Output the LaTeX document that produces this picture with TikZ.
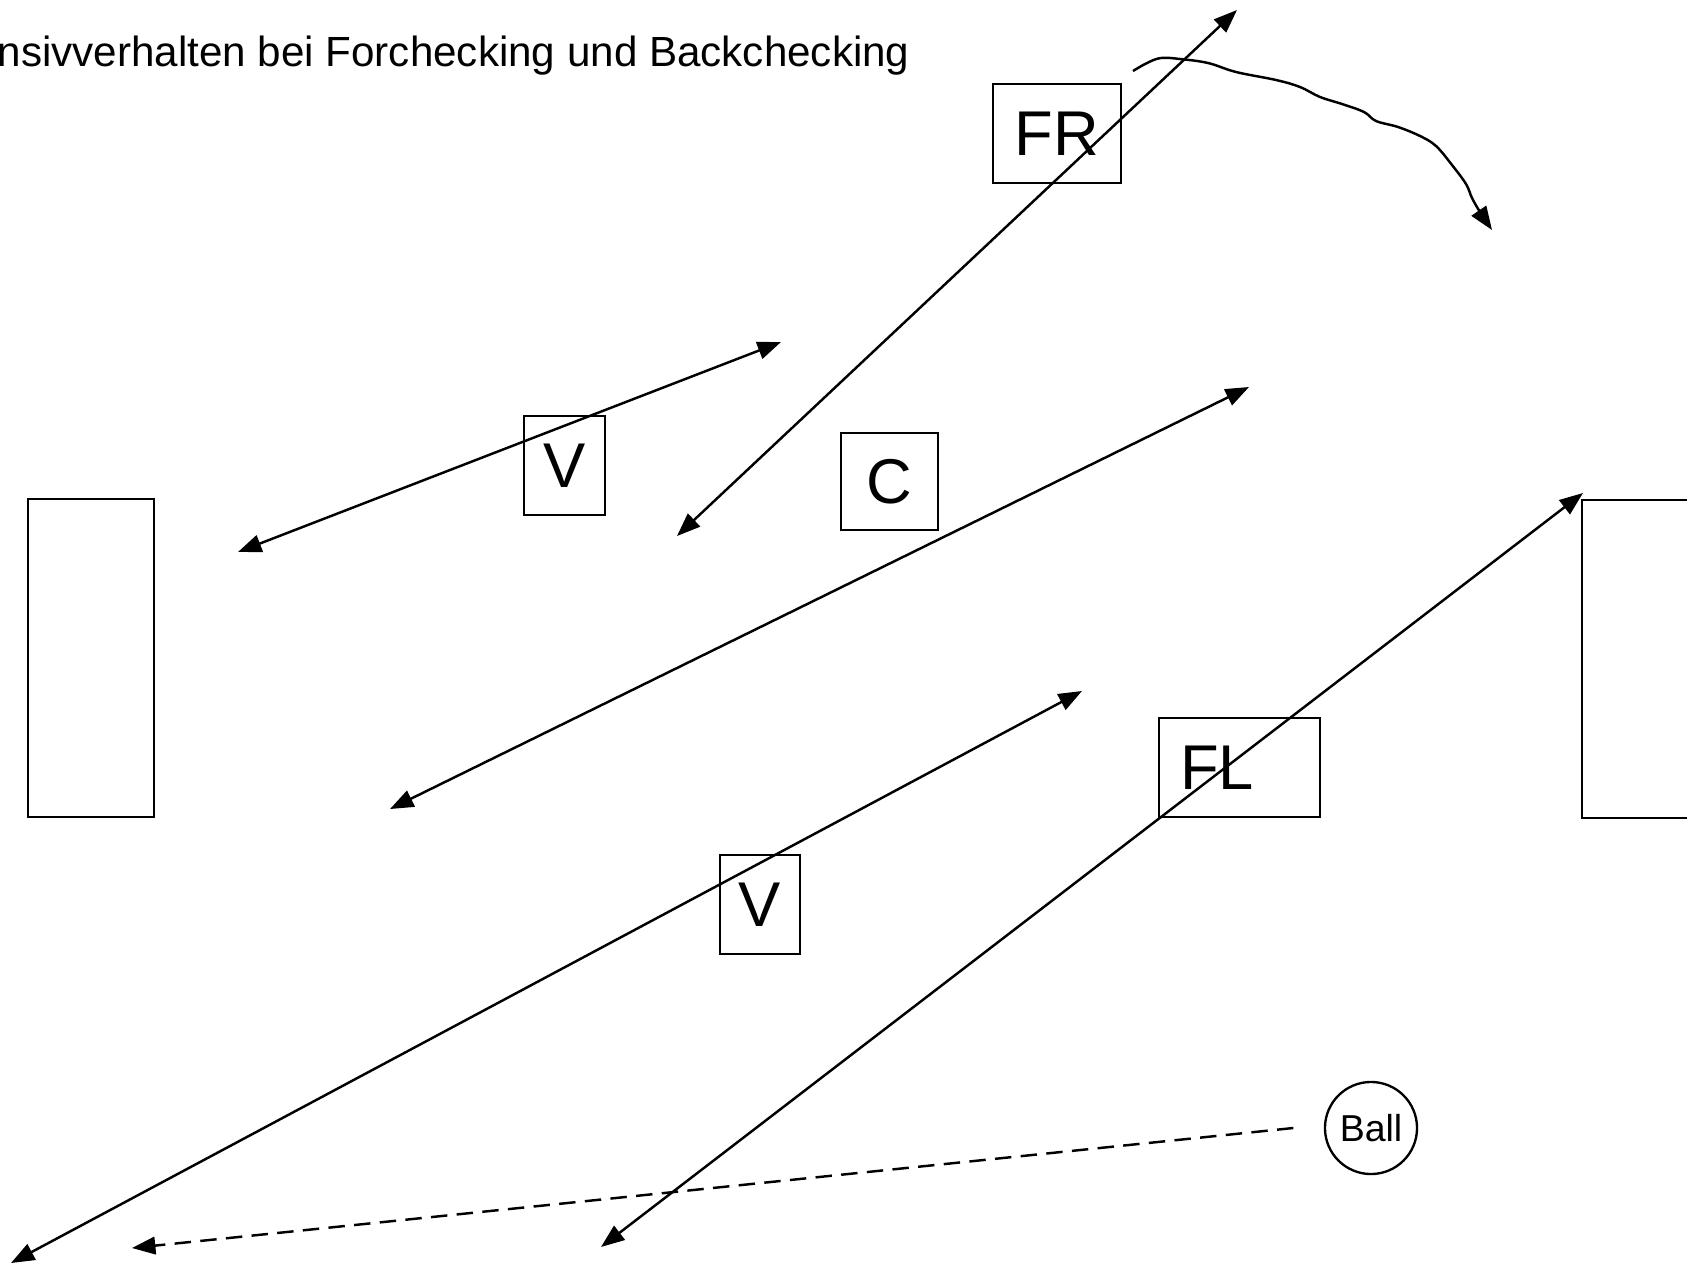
\documentclass[tikz,border=0pt]{standalone}
\usepackage{fontspec}
\setmainfont{Liberation Sans}
\usetikzlibrary{arrows.meta}

\begin{document}
\begin{tikzpicture}[
    x=0.4268pt, y=-0.4268pt,
    player/.style={rectangle, draw, line width=1pt, inner sep=0pt, minimum height=42.3pt, font=\fontsize{27}{32}\selectfont},
    goal/.style={draw, line width=1pt},
    run/.style={<->, >={Triangle[length=10pt,width=7.5pt]}, line width=1.05pt},
    pass/.style={->, >={Triangle[length=10pt,width=7.5pt]}, line width=1.05pt, dash pattern=on 7pt off 4pt},
    puck/.style={circle, draw, line width=1pt, inner sep=0pt, minimum size=39.3pt, font=\fontsize{16}{19}\selectfont}
]
\clip (0,0) rectangle (1687,1267);

% Title
\node[anchor=base east, inner sep=0pt, font=\fontsize{18}{22}\selectfont] (title) at (910,67) {nsivverhalten bei Forchecking und Backchecking};

% Goals
\draw[goal] (28,499) rectangle (154,817);
\draw[goal] (1582,500) rectangle (1720,818);

% Players
\node[player, minimum width=54.6pt] (fr) at (1057,133.5) {FR};
\node[player, minimum width=34.6pt] (vtop) at (564.5,465.5) {V};
\node[player, minimum width=41.4pt, minimum height=41.4pt] (c) at (889.5,481.5) {C};
\node[player, minimum width=68.7pt, inner xsep=9pt, text width=50.7pt, align=left] (fl) at (1239.5,767.5) {FL};
\node[player, minimum width=34.1pt] (vbot) at (760,904.5) {V};
\node[puck] (ball) at (1371,1128) {Ball};

% Run ends
\coordinate (vtopA) at (238,552);
\coordinate (vtopB) at (781,342);
\coordinate (frA) at (677,536);
\coordinate (frB) at (1237,10);
\coordinate (cA) at (390,809);
\coordinate (cB) at (1249,387);
\coordinate (vbotA) at (11,1263);
\coordinate (vbotB) at (1082,691);
\coordinate (flA) at (601,1247);
\coordinate (flB) at (1583,493);
\coordinate (passEnd) at (132,1248);

% Arrows
\draw[run] (vtopA) -- (vtopB);
\draw[run] (frA) -- (frB);
\draw[run] (cA) -- (cB);
\draw[run] (vbotA) -- (vbotB);
\draw[run] (flA) -- (flB);
\draw[pass] ([xshift=-13pt]ball.west) -- (passEnd);
\draw[->, >={Triangle[length=10pt,width=7.5pt]}, line width=1.05pt] plot[smooth, tension=0.6] coordinates {
    (1133,71) (1147,63) (1161,58) (1180,59) (1208,63) (1236,72) (1276,80) (1300,87)
    (1320,97) (1342,104) (1364,112) (1376,121) (1398,127) (1420,136) (1436,146)
    (1452,165) (1466,184) (1472,198) (1480,212) (1492,230)};

\end{tikzpicture}
\end{document}
